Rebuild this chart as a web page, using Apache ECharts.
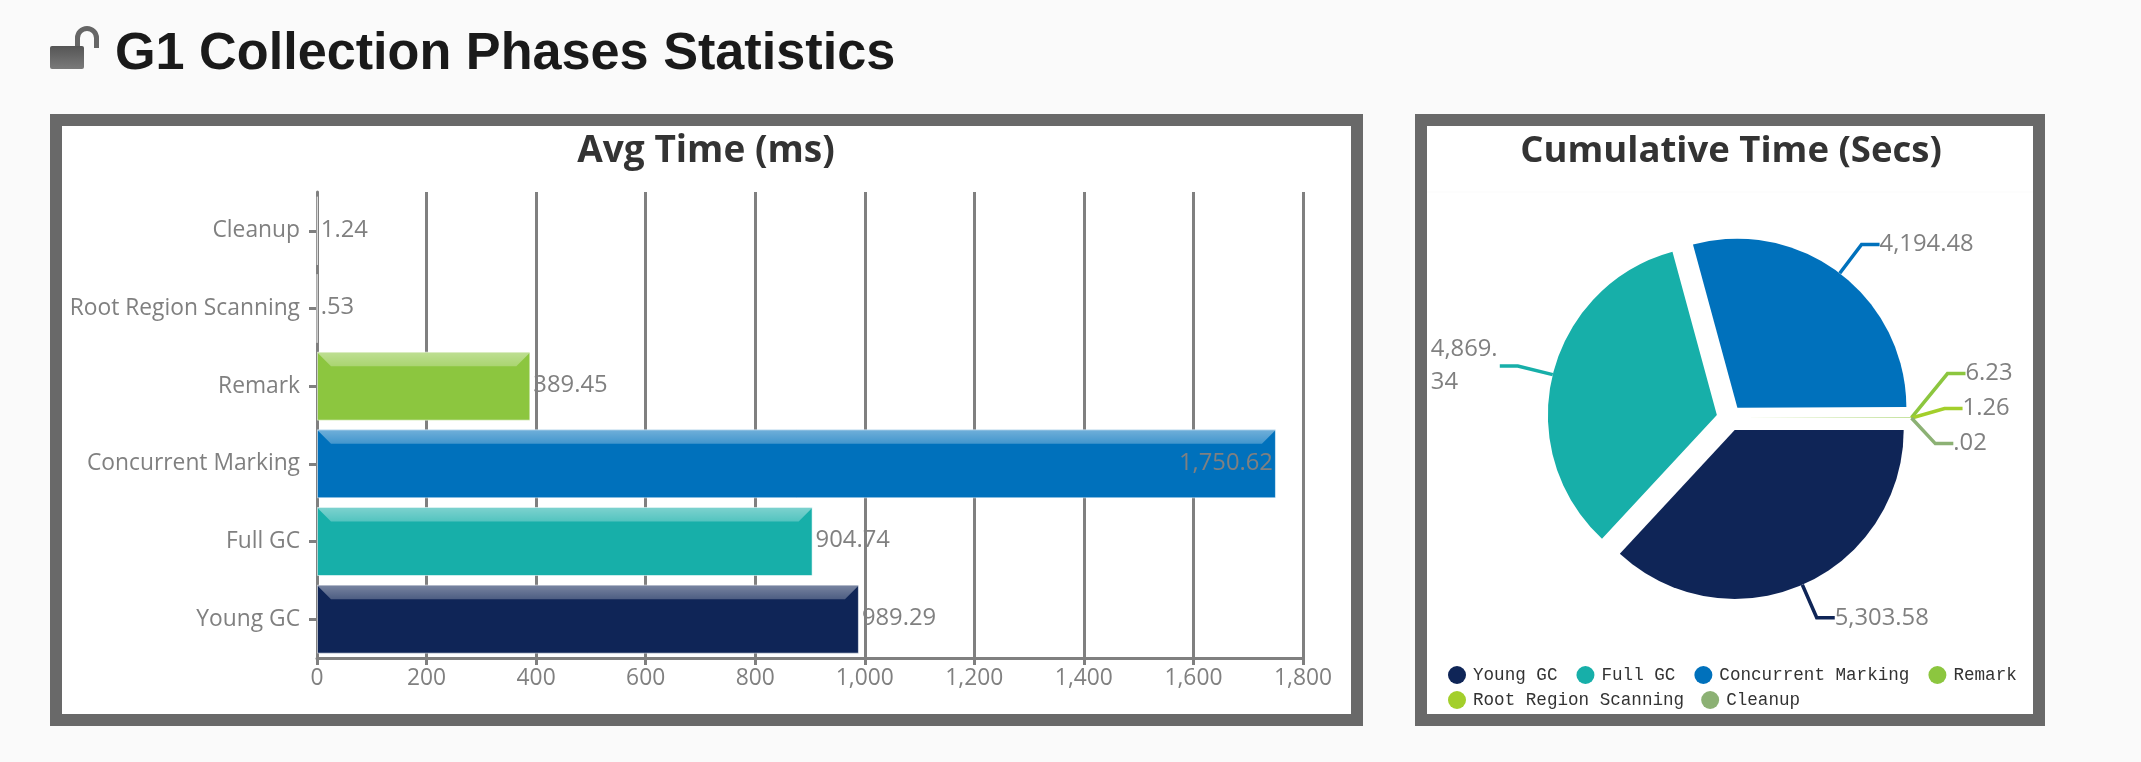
<!DOCTYPE html>
<html><head><meta charset="utf-8">
<style>html,body{margin:0;padding:0;background:#fafafa}#c{width:2141px;height:762px}</style>
<script src="https://cdn.jsdelivr.net/npm/echarts@6/dist/echarts.min.js"></script>
</head><body><div id="c"></div>
<script>
const pageTitle = 'G1 Collection Phases Statistics';
const barTitle = 'Avg Time (ms)';
const pieTitle = 'Cumulative Time (Secs)';
const categories = ['Young GC','Full GC','Concurrent Marking','Remark','Root Region Scanning','Cleanup'];
const avgTimes = [989.29,904.74,1750.62,389.45,0.53,1.24];
const cumulativeTimes = [5303.58,4869.34,4194.48,6.23,1.26,0.02];
const colors = ['#0f2557','#17afa9','#0071bc','#8cc63f','#a3cf2b','#8cb174'];
const xTicksMax = 1800, xTickStep = 200;

const fmt = v => {
  let s = v.toLocaleString('en-US',{maximumFractionDigits:2});
  return s.replace(/^0\./,'.');
};
const labelFont = {fontFamily:'Open Sans',fontSize:22.8,color:'#808080'};
const valueFont = {fontFamily:'Open Sans',fontSize:23.8,color:'#808080'};
const barW = 69, bevel = 14;
const pieLabelOverrides = [
  {padding:[0,0,5,0]},
  {width:70,overflow:'breakAll',lineHeight:33},
  {padding:[0,0,8,0]},
  {lineHeight:33},{lineHeight:33},{lineHeight:33}
];
const chart = echarts.init(document.getElementById('c'));
const panel = (x,y,w,h)=>({type:'rect',z:-10,shape:{x:x+6,y:y+6,width:w-12,height:h-12},
  style:{fill:'#fff',stroke:'#696969',lineWidth:12},silent:true});
const legendBase = {left:1448,padding:0,icon:'circle',itemWidth:18,itemHeight:18,itemGap:17,selectedMode:false,
  textStyle:{fontFamily:'Liberation Mono',fontSize:17.6,color:'#333',padding:[0,0,0,2]}};
chart.setOption({
  backgroundColor:'#fafafa',
  animation:false,
  title:[
    {text:pageTitle,left:110,top:24,textStyle:{fontFamily:'Liberation Sans',fontSize:52.2,fontWeight:'bold',color:'#1a1a1a'}},
    {text:barTitle,left:701,top:128,textAlign:'center',textStyle:{fontFamily:'Open Sans',fontSize:37,fontWeight:'bold',color:'#333'}},
    {text:pieTitle,left:1726,top:128,textAlign:'center',textStyle:{fontFamily:'Open Sans',fontSize:36.5,fontWeight:'bold',color:'#333'}}
  ],
  graphic:[
    panel(50,114,1313,612),
    panel(1415,114,630,612),
    {type:'line',z:-9,silent:true,shape:{x1:1427,y1:192,x2:2033,y2:192},style:{stroke:'#fbfbfb',lineWidth:1}},
    {type:'rect',silent:true,shape:{x:50,y:46,width:34,height:23,r:2},
      style:{fill:new echarts.graphic.LinearGradient(0,0,0,1,[{offset:0,color:'#555'},{offset:1,color:'#7a7a7a'}])}},
    {type:'arc',silent:true,shape:{cx:87,cy:38,r:9.5,startAngle:Math.PI,endAngle:0,clockwise:true},
      style:{fill:'none',stroke:'#666',lineWidth:5}},
    {type:'line',silent:true,shape:{x1:77.5,y1:38,x2:77.5,y2:46},style:{stroke:'#666',lineWidth:5}},
    {type:'line',silent:true,shape:{x1:96.5,y1:38,x2:96.5,y2:48},style:{stroke:'#666',lineWidth:5}}
  ],
  grid:{left:317,top:192,width:986,height:466,containLabel:false},
  xAxis:{type:'value',min:0,max:xTicksMax,interval:xTickStep,
    axisLine:{show:true,lineStyle:{color:'#808080',width:3}},
    axisTick:{show:true,length:7,lineStyle:{color:'#808080',width:3}},
    splitLine:{show:true,lineStyle:{color:'#808080',width:3}},
    axisLabel:{...labelFont,margin:9,formatter:v=>v.toLocaleString('en-US'),hideOverlap:false}},
  yAxis:{type:'category',data:categories,
    axisLine:{show:true,lineStyle:{color:'#808080',width:3}},
    axisTick:{show:true,alignWithLabel:true,length:8,lineStyle:{color:'#808080',width:3}},
    axisLabel:{...labelFont,margin:17,interval:0}},
  legend:[
    {...legendBase,itemGap:19,data:categories.slice(0,4),top:666},
    {...legendBase,data:categories.slice(4),top:691}
  ],
  series:[
    {type:'bar',barWidth:barW,z:3,
     data:avgTimes.map((v,i)=>({value:v,itemStyle:{color:colors[i],borderColor:'rgba(255,255,255,.55)',borderWidth:1},
       label:{position:v>1500?'insideRight':'right'}})),
     label:{show:true,...valueFont,distance:3,offset:[0,-1],formatter:p=>fmt(p.value)}},
    {type:'custom',z:4,silent:true,data:avgTimes.map((v,i)=>[v,i]),encode:{x:0,y:1},
     renderItem:(params,api)=>{
       const v=api.value(0), p0=api.coord([0,api.value(1)]), p1=api.coord([v,api.value(1)]);
       const w=p1[0]-p0[0];
       if(w<bevel*2) return {type:'group',children:[]};
       const t=p0[1]-barW/2+.5;
       return {type:'polygon',shape:{points:[[p0[0],t],[p1[0],t],[p1[0]-bevel,t+bevel],[p0[0]+bevel,t+bevel]]},
         style:{fill:new echarts.graphic.LinearGradient(0,0,0,1,[{offset:0,color:'rgba(255,255,255,.44)'},{offset:1,color:'rgba(255,255,255,.26)'}])}};
     }},
    {type:'pie',center:[1729.5,418],radius:169,startAngle:0,clockwise:true,selectedMode:'multiple',selectedOffset:13,
     avoidLabelOverlap:true,minShowLabelAngle:0,
     data:categories.map((n,i)=>({name:n,value:cumulativeTimes[i],selected:true,itemStyle:{color:colors[i]},
        labelLine:{lineStyle:{color:colors[i],width:3.5}},
        label:pieLabelOverrides[i]})),
     label:{...valueFont,lineHeight:35,formatter:p=>fmt(p.value),distanceToLabelLine:0},
     labelLine:{show:true,length:36,length2:18,smooth:false},
     labelLayout:(p)=>{
       if(p.dataIndex>=3 && p.labelLinePoints){
         const dy=-44, pts=p.labelLinePoints;
         return {dy,labelLinePoints:[pts[0],[pts[1][0],pts[1][1]+dy],[pts[2][0],pts[2][1]+dy]]};
       }
       if(p.dataIndex===1) return {align:'left',dx:-69};
       return {};
     }}
  ]
});
</script></body></html>
